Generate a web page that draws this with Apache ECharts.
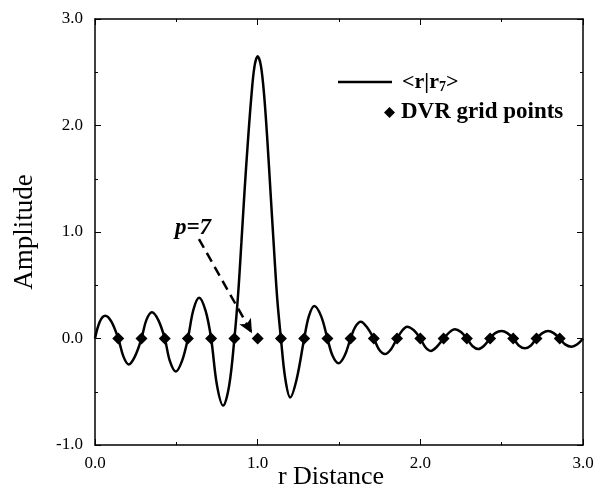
<!DOCTYPE html>
<html>
<head>
<meta charset="utf-8">
<script src="https://cdn.jsdelivr.net/npm/echarts@6/dist/echarts.min.js"></script>
<style>html,body{margin:0;padding:0;background:#fff}#c{width:594px;height:493px}</style>
</head>
<body>
<div id="c"></div>
<script>
// Curve <r|r7>
const curveX = [0, 0.03, 0.063, 0.10, 0.143, 0.175, 0.207, 0.245, 0.286, 0.315, 0.35, 0.39, 0.429, 0.46, 0.497, 0.535, 0.571, 0.605, 0.640, 0.68, 0.714, 0.75, 0.788, 0.825, 0.857, 0.88, 0.90, 0.92, 0.94, 0.96, 0.98, 1.0, 1.02, 1.04, 1.06, 1.08, 1.10, 1.12, 1.143, 1.17, 1.20, 1.24, 1.286, 1.315, 1.348, 1.39, 1.429, 1.46, 1.497, 1.535, 1.571, 1.60, 1.634, 1.67, 1.714, 1.745, 1.783, 1.82, 1.857, 1.89, 1.918, 1.96, 2.0, 2.03, 2.064, 2.10, 2.143, 2.18, 2.213, 2.25, 2.286, 2.32, 2.357, 2.39, 2.429, 2.46, 2.5, 2.535, 2.571, 2.605, 2.643, 2.68, 2.714, 2.75, 2.786, 2.82, 2.857, 2.89, 2.93, 2.965, 3.0];
const curveY = [0, 0.16, 0.214, 0.16, 0, -0.17, -0.243, -0.17, 0, 0.17, 0.246, 0.17, 0, -0.21, -0.31, -0.21, 0, 0.27, 0.383, 0.26, 0, -0.44, -0.63, -0.44, 0, 0.42, 0.9, 1.4, 1.85, 2.25, 2.55, 2.65, 2.56, 2.28, 1.85, 1.35, 0.85, 0.38, 0, -0.38, -0.553, -0.38, 0, 0.21, 0.305, 0.21, 0, -0.16, -0.233, -0.16, 0, 0.11, 0.158, 0.11, 0, -0.10, -0.146, -0.10, 0, 0.077, 0.111, 0.077, 0, -0.08, -0.117, -0.08, 0, 0.06, 0.086, 0.06, 0, -0.07, -0.099, -0.07, 0, 0.05, 0.07, 0.05, 0, -0.065, -0.092, -0.065, 0, 0.05, 0.07, 0.05, 0, -0.055, -0.077, -0.055, 0];
// DVR grid points
const gridX = [0.143, 0.286, 0.429, 0.571, 0.714, 0.857, 1.0, 1.143, 1.286, 1.429, 1.571, 1.714, 1.857, 2.0, 2.143, 2.286, 2.429, 2.571, 2.714, 2.857];
const gridY = [0, 0, 0, 0, 0, 0, 0, 0, 0, 0, 0, 0, 0, 0, 0, 0, 0, 0, 0, 0];
const xTicks = [0, 1, 2, 3];
const yTicks = [-1, 0, 1, 2, 3];
const seriesNames = ['<r|r7>', 'DVR grid points'];
const annotText = 'p=7';
const arrowFrom = [0.639, 0.934];
const arrowTo = [0.965, 0.05];

const FONT = '"Liberation Serif", "DejaVu Serif", serif';
const chart = echarts.init(document.getElementById('c'), null, {renderer: 'canvas'});

function axisCommon(show) {
  return {
    axisLine: {show: true, onZero: false, lineStyle: {color: '#000', width: 1.5}},
    axisTick: {show: true, inside: true, length: 6, lineStyle: {color: '#000', width: 1}},
    minorTick: {show: true, splitNumber: 2, length: 3, lineStyle: {color: '#000', width: 1}},
    splitLine: {show: false},
    axisLabel: {show: show, color: '#000', fontFamily: FONT, fontSize: 17, formatter: v => v.toFixed(1)}
  };
}

const option = {
  backgroundColor: '#fff',
  animation: false,
  grid: {left: 95, right: 11, top: 19, bottom: 48, containLabel: false, outerBoundsMode: 'none'},
  xAxis: [
    Object.assign({type: 'value', min: xTicks[0], max: xTicks[xTicks.length - 1], interval: 1, position: 'bottom',
      name: 'r Distance', nameLocation: 'middle', nameGap: 32, nameMoveOverlap: false,
      nameTextStyle: {color: '#000', fontFamily: FONT, fontSize: 26, verticalAlign: 'middle', padding: [0, 16, 0, 0]}}, axisCommon(true),
      {axisLabel: {show: true, color: '#000', fontFamily: FONT, fontSize: 17, margin: 10, formatter: v => v.toFixed(1)}}),
    Object.assign({type: 'value', min: xTicks[0], max: xTicks[xTicks.length - 1], interval: 1, position: 'top'}, axisCommon(false))
  ],
  yAxis: [
    Object.assign({type: 'value', min: yTicks[0], max: yTicks[yTicks.length - 1], interval: 1, position: 'left',
      name: 'Amplitude', nameLocation: 'middle', nameGap: 57,
      nameTextStyle: {color: '#000', fontFamily: FONT, fontSize: 27}}, axisCommon(true),
      {axisLabel: {show: true, color: '#000', fontFamily: FONT, fontSize: 17, margin: 12, formatter: v => v.toFixed(1)}}),
    Object.assign({type: 'value', min: yTicks[0], max: yTicks[yTicks.length - 1], interval: 1, position: 'right'}, axisCommon(false))
  ],
  legend: [
    {
      data: [{name: seriesNames[0], icon: 'rect'}], left: 338, top: 71, orient: 'vertical',
      itemWidth: 54, itemHeight: 2.5, padding: 0,
      formatter: () => '<r|r{sub|7}>',
      textStyle: {color: '#000', fontFamily: FONT, fontSize: 22, fontWeight: 'bold', padding: [0, 0, 0, 5],
        rich: {sub: {fontFamily: FONT, fontSize: 14, fontWeight: 'bold', verticalAlign: 'bottom', padding: [10, 0, 0, 0]}}}
    },
    {
      data: [{name: seriesNames[1], icon: 'diamond'}], left: 384, top: 101, orient: 'vertical',
      itemWidth: 11, itemHeight: 11, padding: 0,
      textStyle: {color: '#000', fontFamily: FONT, fontSize: 23, fontWeight: 'bold', padding: [0, 0, 0, 1]}
    }
  ],
  series: [
    {
      name: seriesNames[0], type: 'line', xAxisIndex: 0, yAxisIndex: 0,
      data: curveX.map((x, i) => [x, curveY[i]]),
      showSymbol: false, symbol: 'none', smooth: 0.35,
      lineStyle: {color: '#000', width: 2.5}, itemStyle: {color: '#000'}, z: 2
    },
    {
      name: seriesNames[1], type: 'scatter', xAxisIndex: 0, yAxisIndex: 0,
      data: gridX.map((x, i) => [x, gridY[i]]),
      symbol: 'diamond', symbolSize: 12,
      itemStyle: {color: '#000', opacity: 1}, z: 3,
      markLine: {
        silent: true, symbol: ['none', 'arrow'], symbolSize: [10, 14],
        lineStyle: {color: '#000', width: 2.5, type: [10, 6], opacity: 1},
        label: {show: false},
        data: [[{coord: arrowFrom}, {coord: arrowTo}]]
      }
    }
  ],
  graphic: [
    {type: 'text', left: 175, top: 217, style: {text: annotText, fill: '#000', font: 'italic bold 23px ' + FONT}}
  ]
};
chart.setOption(option);
</script>
</body>
</html>
